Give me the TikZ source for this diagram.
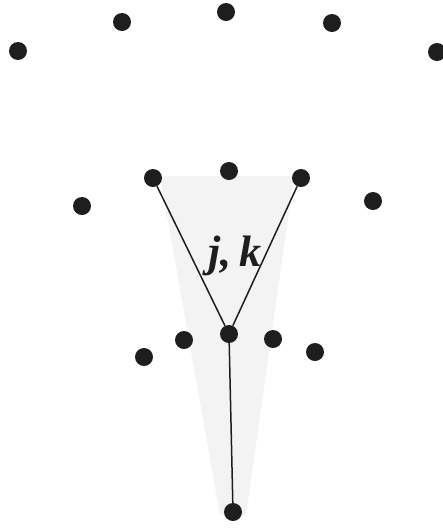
\documentclass[tikz,border=0pt]{standalone}
\usepackage{fontspec}
\usepackage{xcolor}
\usepackage{tikz}
\usetikzlibrary{positioning}
\newfontfamily\labelfont{Liberation Serif}
\definecolor{dotblack}{HTML}{1E1E1E}
\definecolor{wedgegray}{HTML}{F3F3F3}

\begin{document}
\begin{tikzpicture}[x=1pt, y=-1pt,
    dot/.style={circle, fill=dotblack, inner sep=0pt, minimum size=18pt},
    edge/.style={draw=dotblack, line width=1.5pt}]
  \useasboundingbox (0,0) rectangle (443,531);
  % shaded wedge
  \fill[wedgegray] (160,176) -- (294,176) -- (246,515) -- (220,515) -- cycle;
  % top row
  \node[dot] (t1) at (18,51) {};
  \node[dot] (t2) at (122,22) {};
  \node[dot] (t3) at (226,12) {};
  \node[dot] (t4) at (332,23) {};
  \node[dot] (t5) at (437,52) {};
  % middle row
  \node[dot] (m1) at (82,206) {};
  \node[dot] (m2) at (153,178) {};
  \node[dot] (m3) at (229,171) {};
  \node[dot] (m4) at (301,178) {};
  \node[dot] (m5) at (373,201) {};
  % lower row
  \node[dot] (l1) at (144,357) {};
  \node[dot] (l2) at (184,340) {};
  \node[dot] (l3) at (229,334) {};
  \node[dot] (l4) at (273,339) {};
  \node[dot] (l5) at (315,352) {};
  % bottom
  \node[dot] (b) at (233,512) {};
  \draw[edge] (m2) -- (l3);
  \draw[edge] (m4) -- (l3);
  \draw[edge] (l3) -- (b);
  \node[text=dotblack, font=\labelfont\fontsize{44}{44}\selectfont\bfseries\itshape] (jk) at (235,256) {j,\,k};
\end{tikzpicture}
\end{document}
